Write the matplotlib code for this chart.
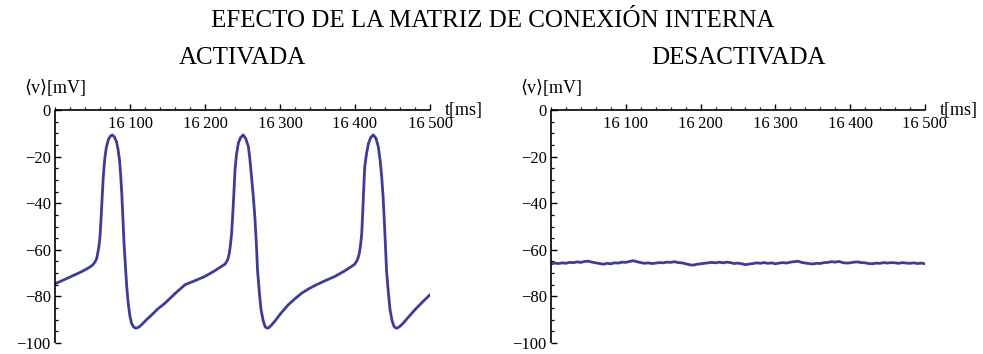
import matplotlib
matplotlib.use("Agg")
import matplotlib.pyplot as plt
from matplotlib.ticker import MultipleLocator

# ---------------- data ----------------
t_on = [16000, 16013, 16026.7, 16036, 16044, 16050, 16053, 16055.5, 16057, 16058.7, 16060,
        16061, 16062, 16063.2, 16064.4, 16065.5, 16066.7, 16068.5, 16071, 16073.5,
        16076.4, 16079, 16082, 16084, 16086, 16087.5, 16089, 16090.5, 16092, 16094, 16095.6,
        16097.8, 16100, 16102, 16104.4, 16106.5, 16109, 16112, 16115.6,
        16122, 16129, 16137, 16146.7, 16160, 16173.3, 16187, 16200, 16212, 16222, 16226.5, 16229,
        16231, 16232.4, 16234, 16235.5, 16236.7, 16237.8, 16239, 16240, 16242,
        16244.4, 16247.5, 16251, 16254.5, 16257.8, 16260, 16262, 16264.5, 16266.7, 16268.5,
        16270, 16272.5, 16274.7, 16277.5, 16280, 16282, 16284.4, 16288, 16293,
        16301, 16311, 16320, 16329, 16338, 16346.7, 16360, 16373.3, 16385, 16395.6, 16399.5, 16402,
        16404, 16405.8, 16407.5, 16409, 16410, 16411, 16412, 16413, 16415.5,
        16418, 16421, 16424.4, 16428, 16431, 16433.5, 16435.6, 16437.5, 16439, 16440.5,
        16442, 16444.5, 16446.7, 16449.5, 16452, 16454, 16456.4, 16460, 16464.5,
        16472, 16480, 16490, 16500]
v_on = [-74.6, -72.7, -70.7, -69.3, -67.9, -66.6, -65.4, -63.8, -61.4, -58.3, -54.3,
        -49.0, -42.9, -35.5, -28.6, -23.8, -20.0, -16.0, -12.9, -11.3,
        -10.7, -11.5, -13.6, -16.8, -21.4, -27.5, -35.7, -46.0, -57.0, -67.5, -75.7,
        -83.5, -88.6, -91.5, -92.9, -93.5, -93.6, -93.1, -92.1,
        -90.0, -87.9, -85.4, -82.9, -78.8, -75.0, -73.2, -71.4, -69.2, -67.1, -66.2, -65.0,
        -63.6, -61.4, -57.7, -52.9, -46.5, -40.0, -32.5, -25.7, -19.0,
        -14.3, -11.8, -10.7, -12.4, -15.7, -21.5, -28.6, -37.5, -47.0, -57.5,
        -68.6, -78.5, -85.7, -90.3, -92.9, -93.5, -93.6, -92.5, -90.7,
        -87.3, -83.6, -81.0, -78.6, -76.8, -75.3, -73.3, -71.4, -69.3, -67.1, -66.2, -65.0,
        -63.6, -61.4, -57.7, -52.9, -46.0, -38.6, -31.0, -24.3, -18.5,
        -14.3, -11.8, -10.7, -12.2, -15.7, -21.5, -28.6, -37.5, -47.0, -57.5,
        -68.6, -78.5, -85.7, -90.5, -92.9, -93.5, -93.6, -92.8, -91.4,
        -88.6, -85.7, -82.4, -79.3]

t_off = [16000, 16005, 16010, 16015, 16020, 16025, 16030, 16035, 16040, 16045,
         16050, 16055, 16060, 16065, 16070, 16075, 16080, 16085, 16090, 16095,
         16100, 16105, 16110, 16115, 16120, 16125, 16130, 16135, 16140, 16145,
         16150, 16155, 16160, 16165, 16170, 16175, 16180, 16185, 16190, 16195,
         16200, 16205, 16210, 16215, 16220, 16225, 16230, 16235, 16240, 16245,
         16250, 16255, 16260, 16265, 16270, 16275, 16280, 16285, 16290, 16295,
         16300, 16305, 16310, 16315, 16320, 16325, 16330, 16335, 16340, 16345,
         16350, 16355, 16360, 16365, 16370, 16375, 16380, 16385, 16390, 16395,
         16400, 16405, 16410, 16415, 16420, 16425, 16430, 16435, 16440, 16445,
         16450, 16455, 16460, 16465, 16470, 16475, 16480, 16485, 16490, 16495, 16500]
v_off = [-66.1, -65.7, -65.9, -65.6, -65.8, -65.4, -65.5, -65.2, -65.4, -65.0,
         -64.9, -65.3, -65.6, -65.9, -66.2, -65.8, -66.0, -65.6, -65.7, -65.3,
         -65.4, -65.0, -64.7, -65.1, -65.5, -65.8, -65.6, -65.9, -65.7, -65.5,
         -65.6, -65.3, -65.4, -65.1, -65.5, -65.6, -66.0, -66.4, -66.6, -66.2,
         -66.0, -65.8, -65.6, -65.4, -65.6, -65.3, -65.6, -65.3, -65.5, -65.9,
         -65.7, -66.0, -66.4, -66.1, -65.9, -65.6, -65.8, -65.5, -65.8, -65.6,
         -66.0, -65.7, -65.5, -65.7, -65.3, -65.1, -64.9, -65.4, -65.7, -65.9,
         -66.1, -65.8, -65.9, -65.5, -65.4, -65.1, -65.3, -65.0, -65.5, -65.7,
         -65.6, -65.3, -65.2, -65.5, -65.6, -65.9, -66.0, -65.7, -65.8, -65.5,
         -65.7, -65.5, -65.6, -65.8, -65.5, -65.7, -65.8, -65.6, -65.9, -65.7, -66.0]

x_ticks = [16100, 16200, 16300, 16400, 16500]
x_labels = ["16\u2009100", "16\u2009200", "16\u2009300", "16\u2009400", "16\u2009500"]
y_ticks = [0, -20, -40, -60, -80, -100]
y_labels = ["0", "\u221220", "\u221240", "\u221260", "\u221280", "\u2212100"]

title = "EFECTO DE LA MATRIZ DE CONEXIÓN INTERNA"
panel_titles = ["ACTIVADA", "DESACTIVADA"]

# ---------------- style ----------------
serif = ["Liberation Serif", "DejaVu Serif"]
plt.rcParams["font.family"] = serif
line_color = "#3d3d99"

fig = plt.figure(figsize=(9.83, 3.54), dpi=100)
axes_rects = [[55 / 983, 11 / 354, 375 / 983, 233 / 354],
              [551 / 983, 11 / 354, 374 / 983, 233 / 354]]
series = [(t_on, v_on), (t_off, v_off)]

for rect, (tt, vv), ptitle in zip(axes_rects, series, panel_titles):
    ax = fig.add_axes(rect)
    ax.plot(tt, vv, color=line_color, lw=2.0, solid_joinstyle="round", solid_capstyle="round")
    ax.set_xlim(16000, 16500)
    ax.set_ylim(-100, 0)
    for s in ["right", "bottom"]:
        ax.spines[s].set_visible(False)
    for s in ["left", "top"]:
        ax.spines[s].set_linewidth(1.2)
        ax.spines[s].set_capstyle("butt")
    ax.xaxis.tick_top()
    ax.set_xticks(x_ticks)
    ax.set_xticklabels([])
    ax.xaxis.set_minor_locator(MultipleLocator(20))
    ax.tick_params(axis="x", which="major", direction="out", length=4.5, width=1.0, top=True, bottom=False)
    ax.tick_params(axis="x", which="minor", direction="out", length=2.5, width=0.9, top=True, bottom=False)
    ax.set_yticks(y_ticks)
    ax.set_yticklabels(y_labels, fontsize=12)
    ax.yaxis.set_minor_locator(MultipleLocator(5))
    ax.tick_params(axis="y", which="major", direction="in", length=4.5, width=1.0, pad=3)
    ax.tick_params(axis="y", which="minor", direction="in", length=2.5, width=0.9)
    tr = ax.get_xaxis_transform()
    for xt, lab in zip(x_ticks, x_labels):
        ax.text(xt, 0.975, lab, transform=tr, ha="center", va="top", fontsize=12)
    ax.text(0.0, 1.055, "\u27e8v\u27e9[mV]", transform=ax.transAxes, ha="center", va="bottom",
            fontsize=13)
    ax.text(1.04, 1.0, "t[ms]", transform=ax.transAxes, ha="left", va="center",
            fontsize=13)
    ax.text(0.5, 1.197, ptitle, transform=ax.transAxes, ha="center", va="baseline",
            fontsize=18)

fig.text(493 / 983, 1 - 27 / 354, title, ha="center", va="baseline", fontsize=18)

fig.savefig("out.png", dpi=100)
